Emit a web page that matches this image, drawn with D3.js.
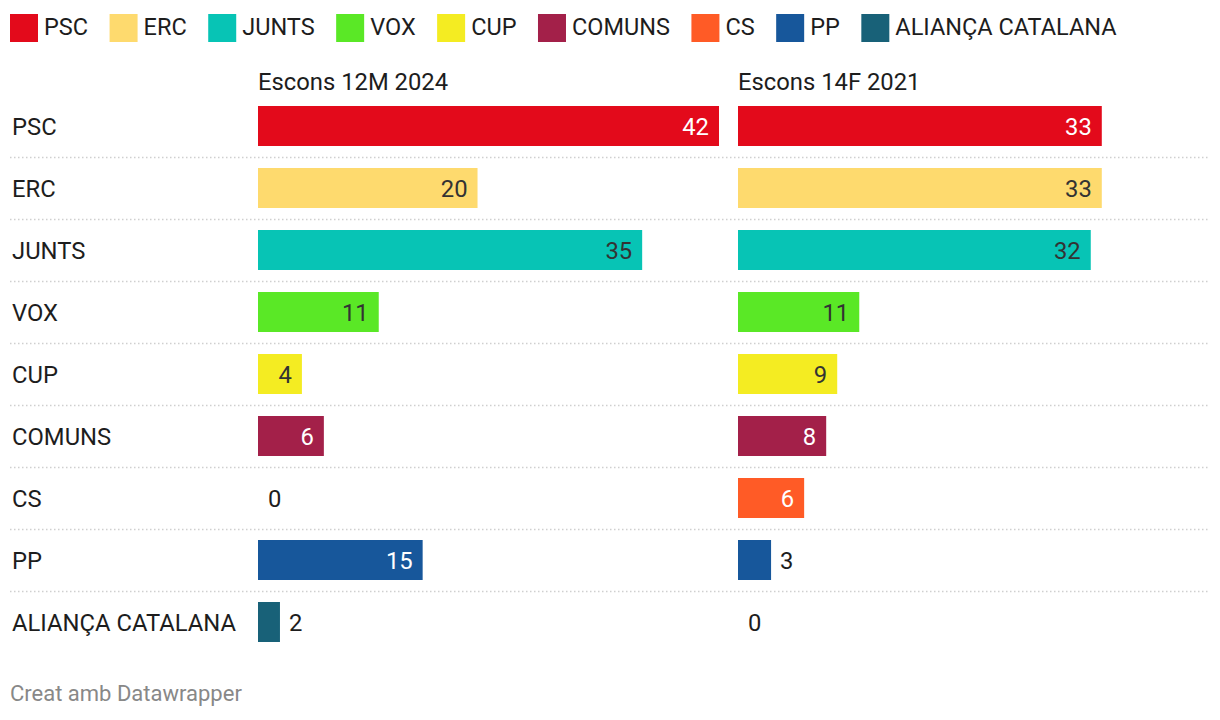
<!DOCTYPE html>
<html><head><meta charset="utf-8">
<script src="https://cdn.jsdelivr.net/npm/d3@7"></script>
<style>body{margin:0;background:#fff;font-family:Roboto,sans-serif;}</style>
</head><body><svg id="c" width="1220" height="720"></svg>
<script>
const parties = ["PSC","ERC","JUNTS","VOX","CUP","COMUNS","CS","PP","ALIANÇA CATALANA"];
const colors = ["#e30a1b","#feda6e","#07c4b5","#5ae826","#f4ec22","#a32049","#ff5b26","#17579b","#186178"];
const darkText = [false,true,true,true,true,false,false,false,false];
const seats2024 = [42,20,35,11,4,6,0,15,2];
const seats2021 = [33,33,32,11,9,8,6,3,0];
const columns = ["Escons 12M 2024","Escons 14F 2021"];

const svg = d3.select("#c");
const font = "Roboto, sans-serif";
const fs = 23.8;

// legend
const lg = svg.append("g");
let lx = 10;
parties.forEach((p,i)=>{
  lg.append("rect").attr("x",lx).attr("y",14).attr("width",28).attr("height",28).attr("fill",colors[i]);
  const t = lg.append("text").attr("x",lx+34).attr("y",35).attr("font-family",font).attr("font-size",23.5).attr("fill","#1d1d1d").text(p);
  lx += 34 + t.node().getComputedTextLength() + 21.5;
});

const y = d3.scaleBand().domain(parties).range([95,653]).paddingInner(22/62).paddingOuter(11/62);
const panels = [
  {x0:258, w:461, data:seats2024, title:columns[0]},
  {x0:738, w:463, data:seats2021, title:columns[1]}
];
const maxV = d3.max([...seats2024,...seats2021]);

// row labels
parties.forEach(p=>{
  svg.append("text").attr("x",12).attr("y",y(p)+y.bandwidth()/2+8.5).attr("font-family",font).attr("font-size",fs).attr("fill","#1d1d1d").text(p);
});
// separators
parties.slice(0,-1).forEach(p=>{
  const ly = Math.round(y(p)+y.bandwidth()+11)+0.5;
  svg.append("line").attr("x1",10).attr("x2",1208).attr("y1",ly).attr("y2",ly)
    .attr("stroke","#cfcfcf").attr("stroke-width",1.5).attr("stroke-dasharray","1.5,2.5");
});

panels.forEach(pn=>{
  const x = d3.scaleLinear().domain([0,maxV]).range([pn.x0, pn.x0+pn.w]);
  svg.append("text").attr("x",pn.x0).attr("y",90).attr("font-family",font).attr("font-size",fs).attr("fill","#1d1d1d").text(pn.title);
  const g = svg.append("g");
  pn.data.forEach((v,i)=>{
    const p = parties[i];
    const w = x(v)-x(0);
    if (v>0) g.append("rect").attr("x",x(0)).attr("y",y(p)).attr("width",w).attr("height",y.bandwidth()).attr("fill",colors[i]);
    const ty = y(p)+y.bandwidth()/2+8.5;
    const inside = w > 38;
    g.append("text")
      .attr("x", inside ? x(v)-10 : x(v)+ (v>0?9:10))
      .attr("y", ty).attr("text-anchor", inside ? "end":"start")
      .attr("font-family",font).attr("font-size",fs)
      .attr("fill", inside ? (darkText[i] ? "#333":"#fff") : "#1d1d1d")
      .text(v);
  });
});

svg.append("text").attr("x",10).attr("y",701).attr("font-family",font).attr("font-size",22).attr("fill","#888").text("Creat amb Datawrapper");
</script></body></html>
